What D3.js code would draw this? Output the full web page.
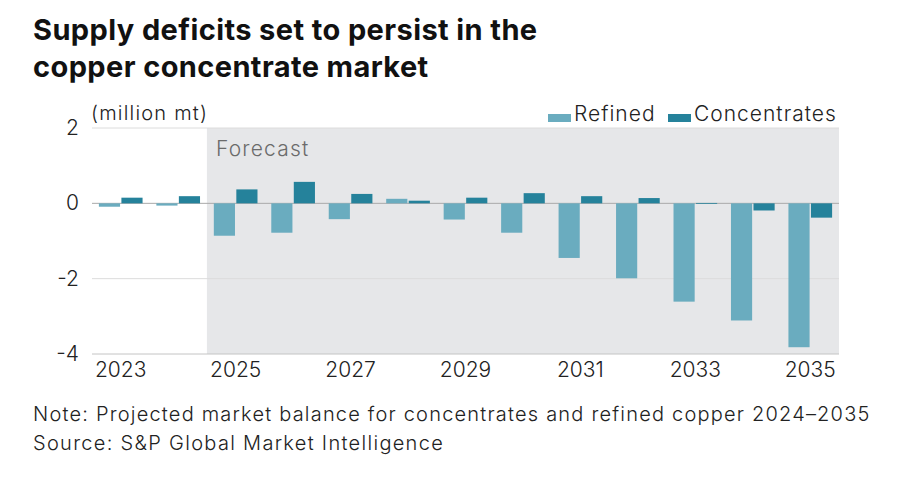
<!DOCTYPE html>
<html>
<head>
<meta charset="utf-8">
<script src="https://cdn.jsdelivr.net/npm/d3@7.9.0/dist/d3.min.js"></script>
<style>
  body { margin: 0; background: #fff; }
  svg { display: block; font-family: Inter, Roboto, "Liberation Sans", sans-serif; }
</style>
</head>
<body>
<svg id="chart" width="902" height="479"></svg>
<script>
const years = [2023, 2024, 2025, 2026, 2027, 2028, 2029, 2030, 2031, 2032, 2033, 2034, 2035];
const refined = [-0.09, -0.06, -0.86, -0.78, -0.42, 0.12, -0.43, -0.78, -1.45, -1.99, -2.61, -3.11, -3.82];
const concentrates = [0.15, 0.19, 0.37, 0.57, 0.25, 0.07, 0.15, 0.27, 0.19, 0.14, 0.01, -0.19, -0.38];
const yTicks = [2, 0, -2, -4];
const xTickYears = [2023, 2025, 2027, 2029, 2031, 2033, 2035];
const forecastStart = 2025;

const seriesNames = ["Refined", "Concentrates"];
const colors = { Refined: "#6aacbf", Concentrates: "#25829b" };

const svg = d3.select("#chart");
const plotLeft = 92, plotRight = 839, plotTop = 128, plotBottom = 354;

const x = d3.scaleBand().domain(years).range([plotLeft, plotRight]).paddingInner(0.24).paddingOuter(0.12);
const xOuter = d3.scaleBand().domain(years).range([plotLeft, plotRight]);
const xInner = d3.scaleBand().domain(seriesNames).range([0, x.bandwidth()]).paddingInner(0.06);
const y = d3.scaleLinear().domain([-4, 2]).range([plotBottom, plotTop]);

// title
svg.append("text")
  .attr("x", 33).attr("y", 40)
  .attr("font-size", 29).attr("font-weight", 700).attr("letter-spacing", 0.4).attr("fill", "#111")
  .text("Supply deficits set to persist in the");
svg.append("text")
  .attr("x", 33).attr("y", 77)
  .attr("font-size", 29).attr("font-weight", 700).attr("letter-spacing", 0.4).attr("fill", "#111")
  .text("copper concentrate market");

// forecast shading
svg.append("rect")
  .attr("x", xOuter(forecastStart))
  .attr("y", y(2))
  .attr("width", plotRight - xOuter(forecastStart))
  .attr("height", y(-4) - y(2))
  .attr("fill", "#e6e7e9");

svg.append("text")
  .attr("x", xOuter(forecastStart) + 9).attr("y", 156)
  .attr("font-size", 21).attr("font-weight", 300).attr("letter-spacing", 1.2).attr("fill", "#6b6b6b")
  .text("Forecast");

// gridlines
svg.append("g")
  .selectAll("line")
  .data(yTicks)
  .join("line")
  .attr("x1", plotLeft).attr("x2", plotRight)
  .attr("y1", d => y(d)).attr("y2", d => y(d))
  .attr("stroke", d => d === 0 ? "#a9a9a9" : (d === -4 ? "#c4c4c4" : "#dcdcdc"))
  .attr("stroke-width", 1);

// y labels
svg.append("g")
  .selectAll("text")
  .data(yTicks)
  .join("text")
  .attr("x", 79).attr("y", d => y(d) + 7)
  .attr("text-anchor", "end")
  .attr("font-size", 21).attr("font-weight", 300).attr("fill", "#222")
  .text(d => d);

svg.append("text")
  .attr("x", 91).attr("y", 120)
  .attr("font-size", 20).attr("font-weight", 300).attr("letter-spacing", 1.2).attr("fill", "#222")
  .text("(million mt)");

// bars
const groups = svg.append("g")
  .selectAll("g")
  .data(years.map((yr, i) => ({ year: yr, Refined: refined[i], Concentrates: concentrates[i] })))
  .join("g")
  .attr("transform", d => `translate(${x(d.year)},0)`);

groups.selectAll("rect")
  .data(d => seriesNames.map(k => ({ key: k, value: d[k] })))
  .join("rect")
  .attr("x", d => xInner(d.key))
  .attr("width", xInner.bandwidth())
  .attr("y", d => y(Math.max(0, d.value)))
  .attr("height", d => Math.max(0.8, Math.abs(y(d.value) - y(0))))
  .attr("fill", d => colors[d.key]);

// x labels
svg.append("g")
  .selectAll("text")
  .data(xTickYears)
  .join("text")
  .attr("x", d => xOuter(d) + xOuter.bandwidth() / 2)
  .attr("y", 377)
  .attr("text-anchor", "middle")
  .attr("font-size", 21).attr("font-weight", 300).attr("fill", "#222")
  .text(d => d);

// legend
const legend = svg.append("g").attr("transform", "translate(548,0)");
const legendX = { Refined: 0, Concentrates: 120 };
seriesNames.forEach(k => {
  legend.append("rect")
    .attr("x", legendX[k]).attr("y", 114)
    .attr("width", 23).attr("height", 8)
    .attr("fill", colors[k]);
  legend.append("text")
    .attr("x", legendX[k] + 26).attr("y", 121)
    .attr("font-size", 21).attr("font-weight", 300).attr("letter-spacing", 1).attr("fill", "#222")
    .text(k);
});

// notes
svg.append("text")
  .attr("x", 33).attr("y", 421)
  .attr("font-size", 20).attr("font-weight", 300).attr("letter-spacing", 1.2).attr("fill", "#222")
  .text("Note: Projected market balance for concentrates and refined copper 2024\u20132035");
svg.append("text")
  .attr("x", 33).attr("y", 450)
  .attr("font-size", 20).attr("font-weight", 300).attr("letter-spacing", 1.3).attr("fill", "#222")
  .text("Source: S&P Global Market Intelligence");
</script>
</body>
</html>
